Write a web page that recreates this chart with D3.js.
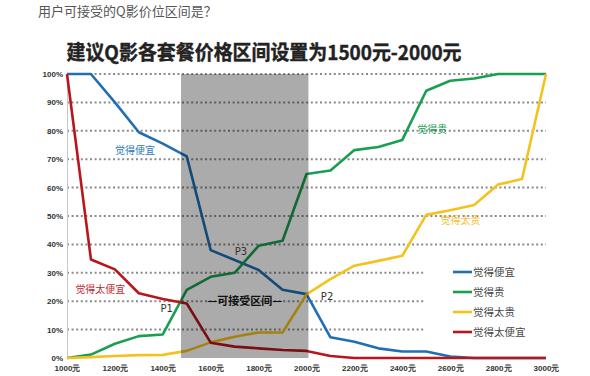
<!DOCTYPE html>
<html>
<head>
<meta charset="utf-8">
<script src="https://cdn.jsdelivr.net/npm/d3@7"></script>
<style>
  body { margin: 0; background: #fff; }
  svg { display: block; font-family: "Noto Sans CJK SC", "Liberation Sans", sans-serif; }
</style>
</head>
<body>
<div id="chart"></div>
<script>
const prices = [1000, 1100, 1200, 1300, 1400, 1500, 1600, 1700, 1800, 1900, 2000,
                2100, 2200, 2300, 2400, 2500, 2600, 2700, 2800, 2900, 3000];

// percent of users
const cheap     = [100, 100, 90, 79.5, 75.5, 71, 38, 34.5, 31, 24, 22.5, 7.3, 5.7, 3.4, 2.3, 2.3, 0.5, 0, 0, 0, 0];
const expensive = [0, 1.2, 5, 7.7, 8.3, 24, 28.6, 30, 39.5, 41.3, 64.8, 66, 73.2, 74.3, 76.8, 94.1, 97.6, 98.4, 100, 100, 100];
const tooExp    = [0, 0.3, 0.7, 1, 1.1, 2.5, 5.5, 7.5, 9, 9, 22.4, 27.8, 32.5, 34.2, 36, 50.4, 52, 53.9, 61.1, 63, 100];
const tooCheap  = [100, 34.7, 31.2, 22.8, 20.8, 19.2, 5.4, 4, 3.4, 2.8, 2.5, 0.7, 0, 0, 0, 0, 0, 0, 0, 0, 0];

const seriesNames = ["觉得便宜", "觉得贵", "觉得太贵", "觉得太便宜"];
const seriesColors = ["#1f6fb2", "#1a9e50", "#f4c21f", "#b8161d"];
const seriesValues = [cheap, expensive, tooExp, tooCheap];

const yTicks = [0, 10, 20, 30, 40, 50, 60, 70, 80, 90, 100];
const xTicks = [1000, 1200, 1400, 1600, 1800, 2000, 2200, 2400, 2600, 2800, 3000];
const acceptBand = [1476, 2008];

const width = 590, height = 376;

const svg = d3.select("#chart").append("svg")
  .attr("width", width)
  .attr("height", height);

const x = d3.scaleLinear().domain([1000, 3000]).range([67, 546]);
const y = d3.scaleLinear().domain([0, 100]).range([358, 74]);

// titles
svg.append("text")
  .attr("x", 38).attr("y", 16)
  .attr("font-size", 13)
  .attr("fill", "#555")
  .text("用户可接受的Q影价位区间是？");

svg.append("text")
  .attr("x", 264).attr("y", 60)
  .attr("text-anchor", "middle")
  .attr("font-size", 20)
  .attr("font-weight", "bold")
  .attr("fill", "#222")
  .attr("stroke", "#222")
  .attr("stroke-width", 0.4)
  .attr("textLength", 395)
  .attr("lengthAdjust", "spacingAndGlyphs")
  .text("建议Q影各套餐价格区间设置为1500元-2000元");

// dotted gridlines
svg.append("g")
  .selectAll("line")
  .data(yTicks.filter(d => d > 0))
  .join("line")
  .attr("x1", x(1000)).attr("x2", x(3000))
  .attr("y1", d => y(d)).attr("y2", d => y(d))
  .attr("stroke", "#8a8a8a")
  .attr("stroke-width", 2)
  .attr("stroke-dasharray", "2 2.6");

// y axis
const yAxis = svg.append("g")
  .attr("transform", `translate(${x(1000)},0)`)
  .call(d3.axisLeft(y).tickValues(yTicks).tickSize(0).tickPadding(4).tickFormat(d => d + "%"));
yAxis.select(".domain").attr("stroke", "#c8c8c8");
yAxis.selectAll("text")
  .attr("font-family", "Liberation Sans, sans-serif")
  .attr("font-size", 8)
  .attr("font-weight", "bold")
  .attr("fill", "#333");

// x axis
const xAxis = svg.append("g")
  .attr("transform", `translate(0,${y(0)})`)
  .call(d3.axisBottom(x).tickValues(xTicks).tickSize(0).tickPadding(7).tickFormat(d => d + "元"));
xAxis.select(".domain").remove();
xAxis.selectAll("text")
  .attr("font-size", 8)
  .attr("font-weight", "bold")
  .attr("fill", "#333");

// legend background covers the grid
svg.append("rect")
  .attr("x", 424).attr("y", 257)
  .attr("width", 166).attr("height", 90)
  .attr("fill", "#fff");

// lines
const line = d3.line()
  .x((d, i) => x(prices[i]))
  .y(d => y(d));

svg.append("g")
  .selectAll("path")
  .data(seriesValues)
  .join("path")
  .attr("d", d => line(d))
  .attr("fill", "none")
  .attr("stroke", (d, i) => seriesColors[i])
  .attr("stroke-width", 2.6)
  .attr("stroke-linejoin", "round");

// acceptable band, translucent gray over everything
svg.append("rect")
  .attr("x", x(acceptBand[0]))
  .attr("y", y(100))
  .attr("width", x(acceptBand[1]) - x(acceptBand[0]))
  .attr("height", y(0) - y(100))
  .attr("fill", "#000")
  .attr("opacity", 0.33);

// annotations
const notes = [
  { text: "觉得便宜", px: 1200, py: 73, color: "#2a7ab8" },
  { text: "觉得太便宜", px: 1035, py: 24, color: "#c0282e" },
  { text: "觉得贵", px: 2462, py: 80.5, color: "#1a9e50" },
  { text: "觉得太贵", px: 2560, py: 48.5, color: "#f0c030" }
];
svg.append("g")
  .selectAll("text")
  .data(notes)
  .join("text")
  .attr("x", d => x(d.px))
  .attr("y", d => y(d.py))
  .attr("dy", "0.35em")
  .attr("font-size", 10)
  .attr("fill", d => d.color)
  .text(d => d.text);

const points = [
  { text: "P1", px: 1390, py: 17.5 },
  { text: "P2", px: 2060, py: 21.5 },
  { text: "P3", px: 1700, py: 37.5 }
];
svg.append("g")
  .selectAll("text")
  .data(points)
  .join("text")
  .attr("x", d => x(d.px))
  .attr("y", d => y(d.py))
  .attr("dy", "0.35em")
  .attr("font-family", "DejaVu Sans, sans-serif")
  .attr("font-size", 10)
  .attr("fill", "#333")
  .text(d => d.text);

svg.append("text")
  .attr("x", (x(acceptBand[0]) + x(acceptBand[1])) / 2)
  .attr("y", y(20))
  .attr("dy", "0.35em")
  .attr("text-anchor", "middle")
  .attr("font-size", 11)
  .attr("font-weight", "bold")
  .attr("fill", "#111")
  .text("—可接受区间—");

// legend
const legend = svg.append("g")
  .selectAll("g")
  .data(seriesNames)
  .join("g")
  .attr("transform", (d, i) => `translate(453,${272 + i * 20})`);
legend.append("line")
  .attr("x1", 0).attr("x2", 19)
  .attr("stroke", (d, i) => seriesColors[i])
  .attr("stroke-width", 2.6);
legend.append("text")
  .attr("x", 20)
  .attr("dy", "0.35em")
  .attr("font-size", 10.5)
  .attr("fill", "#444")
  .text(d => d);
</script>
</body>
</html>
